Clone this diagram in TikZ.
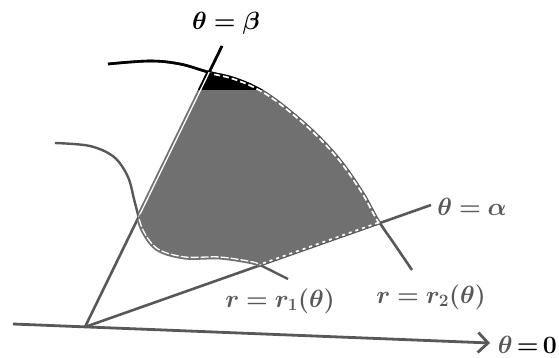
\documentclass[tikz,border=0pt]{standalone}
\usepackage{amsmath,bm}
\usetikzlibrary{arrows.meta}
\definecolor{lg}{RGB}{88,88,88}
\definecolor{rf}{RGB}{112,112,112}
\newcommand\outercurve{plot[smooth,tension=0.6] coordinates {(108,64) (150,61) (180,64) (208,72) (233,78) (257,88) (280,103) (313,131) (340,160) (363,193) (378,220) (395,245) (412,270)}}
\newcommand\innercurve{plot[smooth,tension=0.55] coordinates {(55,143) (90,146) (114,157) (128,177) (135,203) (143,230) (158,249) (185,257) (220,257) (253,262) (262,266) (288,279)}}
\newcommand\wedgeclip{\clip (85,327) -- (263,-38) -- (604,-38) -- (604,144) -- cycle;}
\newcommand\insideouter{\clip \outercurve -- (430,300) -- (60,340) -- (60,64) -- cycle;}
\newcommand\outsideinner{\clip \innercurve -- (300,290) -- (604,290) -- (604,-40) -- (40,-40) -- (40,143) -- cycle;}
\newcommand\myscene[2]{%
  \draw[draw=#1,line width=2.6pt] (O) -- (B);
  \draw[draw=#1,line width=2.6pt] (O) -- (A);
  \draw[draw=#1,line width=2.4pt] \innercurve;
  \draw[draw=#1,line width=2.6pt] \outercurve;
  \begin{scope}\wedgeclip\insideouter\outsideinner
    \fill[#2] (0,0) rectangle (600,358);
    \draw[white,line width=3.4pt,dash pattern=on 6pt off 3pt] \outercurve;
    \draw[white,line width=3.4pt,dash pattern=on 3pt off 4pt] (O) -- (A);
  \end{scope}
  \begin{scope}\insideouter\outsideinner
    \draw[#2,line width=5pt] (O) -- (B);
    \draw[white,line width=1.3pt] (O) -- (B);
  \end{scope}
  \begin{scope}\wedgeclip\insideouter
    \draw[#2,line width=5pt] \innercurve;
    \draw[white,line width=1.3pt,dash pattern=on 8pt off 2pt] \innercurve;
  \end{scope}
}
\begin{document}
\begin{tikzpicture}[x=1pt,y=-1pt,
  lbl/.style={font=\fontsize{24}{28}\selectfont, inner sep=0pt},
  axis/.style={draw=lg,line width=2.8pt,-{Straight Barb[length=10pt,width=20pt]}}]
\useasboundingbox (0,0) rectangle (559,358);
\fill[white] (0,0) rectangle (559,358);
\coordinate (O) at (85,327);
\coordinate (B) at (222,46);
\coordinate (A) at (431,205);
\coordinate (L) at (13,324);
\coordinate (R) at (490,343);
\draw[axis] (L) -- (R);
\myscene{lg}{rf}
\begin{scope}
  \clip (0,0) rectangle (559,90);
  \myscene{black}{black}
\end{scope}
\node[lbl, text=black] (lb) at (226,23) {$\boldsymbol{\theta\;{=}\;\beta}$};
\node[lbl, text=lg] (la) at (472,207) {$\boldsymbol{\theta\;{=}\;\alpha}$};
\node[lbl, text=lg] (l1) at (280,301) {$\boldsymbol{r\;{=}\;r_1(\theta)}$};
\node[lbl, text=lg] (l2) at (431,297) {$\boldsymbol{r\;{=}\;r_2(\theta)}$};
\node[lbl, anchor=east] (l0) at (557,345) {$\color{lg}\boldsymbol{\theta}\color{black}\boldsymbol{\,{=}\,0}$};
\end{tikzpicture}
\end{document}
